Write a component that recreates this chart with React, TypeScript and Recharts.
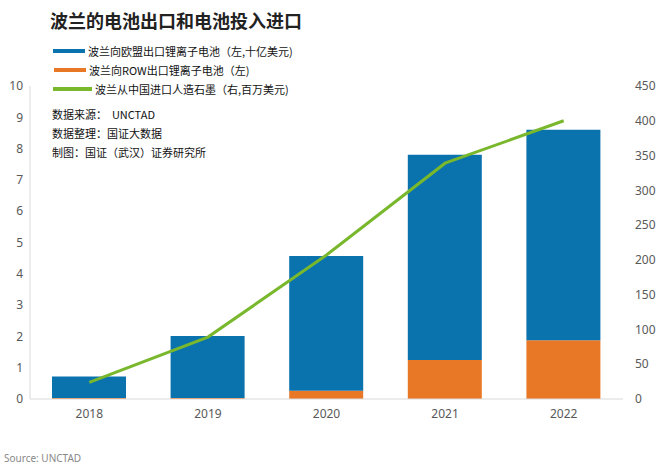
import React from 'react';
import { ComposedChart, Bar, Line, XAxis, YAxis } from 'recharts';

const years = ['2018', '2019', '2020', '2021', '2022'];
const euExports = [0.69, 1.98, 4.31, 6.55, 6.72];
const rowExports = [0.03, 0.03, 0.26, 1.25, 1.88];
const graphiteImports = [24, 89, 207, 339, 400];
const leftTicks = [0, 1, 2, 3, 4, 5, 6, 7, 8, 9, 10];
const rightTicks = [0, 50, 100, 150, 200, 250, 300, 350, 400, 450];

const data = years.map((year, i) => ({
    year,
    eu: euExports[i],
    row: rowExports[i],
    graphite: graphiteImports[i],
}));

const BLUE = '#0a72ad';
const ORANGE = '#e97826';
const GREEN = '#79b82d';
const cjk = '"Noto Sans CJK SC", "Noto Sans", sans-serif';
const tickStyle = { fontSize: 12, fill: '#595959', fontFamily: '"Noto Sans", sans-serif' };

const legendItems = [
    { color: BLUE, label: '波兰向欧盟出口锂离子电池（左,十亿美元)', top: 44, x1: 53, w: 32 },
    { color: ORANGE, label: '波兰向ROW出口锂离子电池（左)', top: 63, x1: 54, w: 32 },
    { color: GREEN, label: '波兰从中国进口人造石墨（右,百万美元)', top: 82, x1: 53, w: 39 },
];

const notes = ['数据来源：  UNCTAD', '数据整理：国证大数据', '制图：国证（武汉）证券研究所'];

const App: React.FC = () => {
    return (
        <div style={{ position: 'absolute', left: 0, top: 0, width: 660, height: 467, background: '#fff', fontFamily: cjk }}>
            <ComposedChart
                width={660}
                height={467}
                data={data}
                margin={{ top: 86, right: 0, bottom: 38, left: 0 }}
                barSize={74}
            >
                <XAxis
                    dataKey="year"
                    height={30}
                    tickLine={false}
                    axisLine={{ stroke: '#d9d9d9' }}
                    tick={tickStyle}
                    tickMargin={4}
                />
                <YAxis
                    yAxisId="left"
                    width={30}
                    domain={[0, 10]}
                    ticks={leftTicks}
                    tickLine={false}
                    axisLine={{ stroke: '#d9d9d9' }}
                    tick={tickStyle}
                    tickMargin={1}
                    interval={0}
                />
                <YAxis
                    yAxisId="right"
                    orientation="right"
                    width={37}
                    domain={[0, 450]}
                    ticks={rightTicks}
                    tickLine={false}
                    axisLine={false}
                    tick={{ ...tickStyle, textAnchor: 'start' }}
                    tickMargin={6}
                    interval={0}
                />
                <Bar yAxisId="left" dataKey="row" stackId="a" fill={ORANGE} isAnimationActive={false} />
                <Bar yAxisId="left" dataKey="eu" stackId="a" fill={BLUE} isAnimationActive={false} />
                <Line
                    yAxisId="right"
                    type="linear"
                    dataKey="graphite"
                    stroke={GREEN}
                    strokeWidth={3}
                    dot={false}
                    isAnimationActive={false}
                />
            </ComposedChart>

            <div style={{ position: 'absolute', left: 50, top: 7, fontSize: 18, fontWeight: 'bold', color: '#222', whiteSpace: 'nowrap' }}>
                波兰的电池出口和电池投入进口
            </div>

            {legendItems.map((item) => (
                <div key={item.label} style={{ position: 'absolute', left: item.x1, top: item.top, height: 14, display: 'flex', alignItems: 'center', whiteSpace: 'nowrap' }}>
                    <span style={{ display: 'inline-block', width: item.w, height: 4, background: item.color, marginRight: 3 }} />
                    <span style={{ fontSize: 11, color: '#111' }}>{item.label}</span>
                </div>
            ))}

            {notes.map((note, i) => (
                <div key={note} style={{ position: 'absolute', left: 52, top: 106 + i * 19, fontSize: 11, color: '#111', whiteSpace: 'pre' }}>
                    {note}
                </div>
            ))}

            <div style={{ position: 'absolute', left: 4, top: 451, fontSize: 10, color: '#888', fontFamily: '"Noto Sans", sans-serif' }}>
                Source: UNCTAD
            </div>
        </div>
    );
};

export default App;
